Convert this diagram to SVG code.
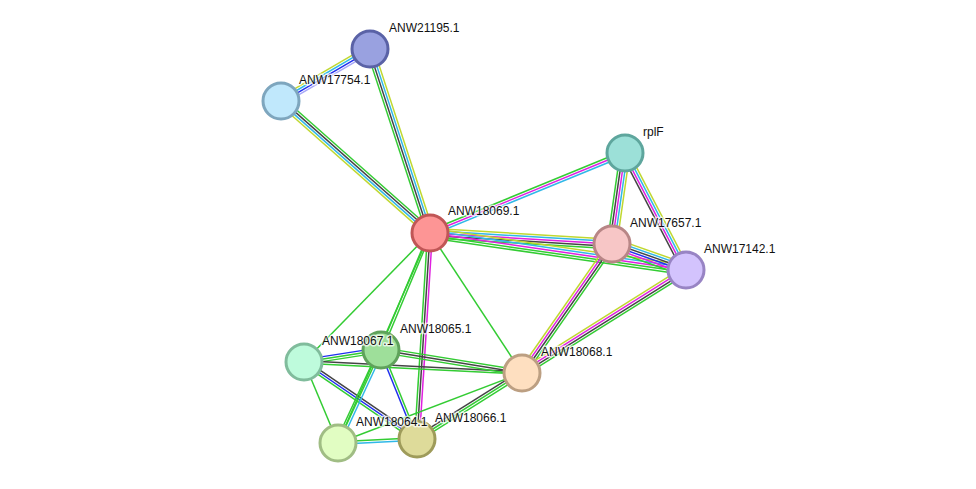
<svg xmlns="http://www.w3.org/2000/svg" width="976" height="489" viewBox="0 0 976 489">
<style>
.e line{stroke-width:1.5;fill:none}
.g{stroke:#33cc33}
.k{stroke:#444444}
.m{stroke:#e020e0}
.c{stroke:#30b8e8}
.y{stroke:#c0d830}
.b{stroke:#2030ee}
.h{stroke:#a8a8f8}
.n circle{stroke-width:3}
.n text{font-family:"Liberation Sans",Arial,sans-serif;font-size:12px;fill:#111;stroke:#fff;stroke-width:3;stroke-opacity:0.7;paint-order:stroke;stroke-linejoin:round}
</style>
<rect width="976" height="489" fill="#fff"/>
<g id="connectors" class="e">
<g transform="translate(370,49) rotate(149.7)"><line class="h" x1="0" y1="-3.6" x2="103.1" y2="-3.6"/><line class="b" x1="0" y1="-1.2" x2="103.1" y2="-1.2"/><line class="c" x1="0" y1="1.2" x2="103.1" y2="1.2"/><line class="y" x1="0" y1="3.6" x2="103.1" y2="3.6"/></g>
<g transform="translate(370,49) rotate(71.9)"><line class="y" x1="0" y1="-3.6" x2="193.5" y2="-3.6"/><line class="c" x1="0" y1="-1.2" x2="193.5" y2="-1.2"/><line class="k" x1="0" y1="1.2" x2="193.5" y2="1.2"/><line class="g" x1="0" y1="3.6" x2="193.5" y2="3.6"/></g>
<g transform="translate(281,101) rotate(41.5)"><line class="g" x1="0" y1="-3.6" x2="199.1" y2="-3.6"/><line class="k" x1="0" y1="-1.2" x2="199.1" y2="-1.2"/><line class="c" x1="0" y1="1.2" x2="199.1" y2="1.2"/><line class="y" x1="0" y1="3.6" x2="199.1" y2="3.6"/></g>
<g transform="translate(430,233) rotate(-22.3)"><line class="g" x1="0" y1="-2.4" x2="210.8" y2="-2.4"/><line class="m" x1="0" y1="0" x2="210.8" y2="0"/><line class="c" x1="0" y1="2.4" x2="210.8" y2="2.4"/></g>
<g transform="translate(430,233) rotate(3.46)"><line class="y" x1="0" y1="-4.8" x2="182.3" y2="-4.8"/><line class="c" x1="0" y1="-2.4" x2="182.3" y2="-2.4"/><line class="m" x1="0" y1="0" x2="182.3" y2="0"/><line class="k" x1="0" y1="2.4" x2="182.3" y2="2.4"/><line class="g" x1="0" y1="4.8" x2="182.3" y2="4.8"/></g>
<g transform="translate(430,233) rotate(8.22)"><line class="y" x1="0" y1="-4.8" x2="258.7" y2="-4.8"/><line class="c" x1="0" y1="-2.4" x2="258.7" y2="-2.4"/><line class="m" x1="0" y1="0" x2="258.7" y2="0"/><line class="g" x1="0" y1="2.4" x2="258.7" y2="2.4"/><line class="g" x1="0" y1="4.8" x2="258.7" y2="4.8"/></g>
<g transform="translate(625,153) rotate(98.1)"><line class="y" x1="0" y1="-4.8" x2="91.9" y2="-4.8"/><line class="c" x1="0" y1="-2.4" x2="91.9" y2="-2.4"/><line class="m" x1="0" y1="0" x2="91.9" y2="0"/><line class="k" x1="0" y1="2.4" x2="91.9" y2="2.4"/><line class="g" x1="0" y1="4.8" x2="91.9" y2="4.8"/></g>
<g transform="translate(625,153) rotate(62.5)"><line class="y" x1="0" y1="-3.6" x2="131.9" y2="-3.6"/><line class="c" x1="0" y1="-1.2" x2="131.9" y2="-1.2"/><line class="m" x1="0" y1="1.2" x2="131.9" y2="1.2"/><line class="k" x1="0" y1="3.6" x2="131.9" y2="3.6"/></g>
<g transform="translate(612,244) rotate(19.4)"><line class="y" x1="0" y1="-6" x2="78.4" y2="-6"/><line class="c" x1="0" y1="-3.6" x2="78.4" y2="-3.6"/><line class="k" x1="0" y1="-1.2" x2="78.4" y2="-1.2"/><line class="b" x1="0" y1="1.2" x2="78.4" y2="1.2"/><line class="m" x1="0" y1="3.6" x2="78.4" y2="3.6"/><line class="g" x1="0" y1="6" x2="78.4" y2="6"/></g>
<g transform="translate(612,244) rotate(124.9)"><line class="g" x1="0" y1="-3.6" x2="157.3" y2="-3.6"/><line class="k" x1="0" y1="-1.2" x2="157.3" y2="-1.2"/><line class="m" x1="0" y1="1.2" x2="157.3" y2="1.2"/><line class="y" x1="0" y1="3.6" x2="157.3" y2="3.6"/></g>
<g transform="translate(686,270) rotate(147.9)"><line class="g" x1="0" y1="-3.6" x2="193.7" y2="-3.6"/><line class="k" x1="0" y1="-1.2" x2="193.7" y2="-1.2"/><line class="m" x1="0" y1="1.2" x2="193.7" y2="1.2"/><line class="y" x1="0" y1="3.6" x2="193.7" y2="3.6"/></g>
<line class="g" x1="430" y1="233" x2="522" y2="373"/>
<line class="g" x1="430" y1="233" x2="304" y2="362"/>
<g transform="translate(430,233) rotate(112.7)"><line class="g" x1="0" y1="-1.2" x2="126.8" y2="-1.2"/><line class="g" x1="0" y1="1.2" x2="126.8" y2="1.2"/></g>
<line class="g" x1="430" y1="233" x2="338" y2="443"/>
<g transform="translate(430,233) rotate(93.6)"><line class="m" x1="0" y1="-2.4" x2="206.4" y2="-2.4"/><line class="k" x1="0" y1="0" x2="206.4" y2="0"/><line class="g" x1="0" y1="2.4" x2="206.4" y2="2.4"/></g>
<g transform="translate(304,362) rotate(-8.86)"><line class="b" x1="0" y1="-2.4" x2="77.9" y2="-2.4"/><line class="g" x1="0" y1="0" x2="77.9" y2="0"/><line class="g" x1="0" y1="2.4" x2="77.9" y2="2.4"/></g>
<g transform="translate(304,362) rotate(2.89)"><line class="k" x1="0" y1="-1.2" x2="218.3" y2="-1.2"/><line class="g" x1="0" y1="1.2" x2="218.3" y2="1.2"/></g>
<g transform="translate(381,350) rotate(9.26)"><line class="g" x1="0" y1="-2.4" x2="142.9" y2="-2.4"/><line class="k" x1="0" y1="0" x2="142.9" y2="0"/><line class="g" x1="0" y1="2.4" x2="142.9" y2="2.4"/></g>
<g transform="translate(304,362) rotate(34.3)"><line class="k" x1="0" y1="-2.4" x2="136.7" y2="-2.4"/><line class="b" x1="0" y1="0" x2="136.7" y2="0"/><line class="g" x1="0" y1="2.4" x2="136.7" y2="2.4"/></g>
<line class="g" x1="304" y1="362" x2="338" y2="443"/>
<g transform="translate(381,350) rotate(68)"><line class="g" x1="0" y1="-1.2" x2="96" y2="-1.2"/><line class="b" x1="0" y1="1.2" x2="96" y2="1.2"/></g>
<g transform="translate(381,350) rotate(114.8)"><line class="c" x1="0" y1="-2.4" x2="102.5" y2="-2.4"/><line class="g" x1="0" y1="0" x2="102.5" y2="0"/><line class="g" x1="0" y1="2.4" x2="102.5" y2="2.4"/></g>
<g transform="translate(338,443) rotate(-2.9)"><line class="g" x1="0" y1="-1.2" x2="79.1" y2="-1.2"/><line class="c" x1="0" y1="1.2" x2="79.1" y2="1.2"/></g>
<line class="g" x1="338" y1="443" x2="522" y2="373"/>
<g transform="translate(417,439) rotate(-32.2)"><line class="k" x1="0" y1="-2.4" x2="124" y2="-2.4"/><line class="g" x1="0" y1="0" x2="124" y2="0"/><line class="g" x1="0" y1="2.4" x2="124" y2="2.4"/></g>
</g>
<g id="ANW21195.1" class="n"><circle cx="370" cy="49" r="18" fill="#99a1e0" stroke="#5a62a6"/><text x="389" y="32">ANW21195.1</text></g>
<g id="ANW17754.1" class="n"><circle cx="281" cy="101" r="18" fill="#c0e8fc" stroke="#7ea6be"/><text x="299" y="84">ANW17754.1</text></g>
<g id="ANW18069.1" class="n"><circle cx="430" cy="233" r="18" fill="#fd9595" stroke="#c05656"/><text x="448" y="215">ANW18069.1</text></g>
<g id="rplF" class="n"><circle cx="625" cy="153" r="18" fill="#9ce0d8" stroke="#5ea69d"/><text x="643" y="136">rplF</text></g>
<g id="ANW17657.1" class="n"><circle cx="612" cy="244" r="18" fill="#f7c6c6" stroke="#b88686"/><text x="630" y="227">ANW17657.1</text></g>
<g id="ANW17142.1" class="n"><circle cx="686" cy="270" r="18" fill="#d3c3fd" stroke="#9884c4"/><text x="704" y="253">ANW17142.1</text></g>
<g id="ANW18065.1" class="n"><circle cx="381" cy="350" r="18" fill="#9edf9a" stroke="#5fa25b"/><text x="400" y="333">ANW18065.1</text></g>
<g id="ANW18067.1" class="n"><circle cx="304" cy="362" r="18" fill="#befbdc" stroke="#80bc9c"/><text x="322" y="345">ANW18067.1</text></g>
<g id="ANW18068.1" class="n"><circle cx="522" cy="373" r="18" fill="#fedfc0" stroke="#bc9f82"/><text x="541" y="356">ANW18068.1</text></g>
<g id="ANW18066.1" class="n"><circle cx="417" cy="439" r="18" fill="#dedb9a" stroke="#9e9b5a"/><text x="435" y="422">ANW18066.1</text></g>
<g id="ANW18064.1" class="n"><circle cx="338" cy="443" r="18" fill="#e1fdc2" stroke="#a0bd84"/><text x="356" y="426">ANW18064.1</text></g>
</svg>
